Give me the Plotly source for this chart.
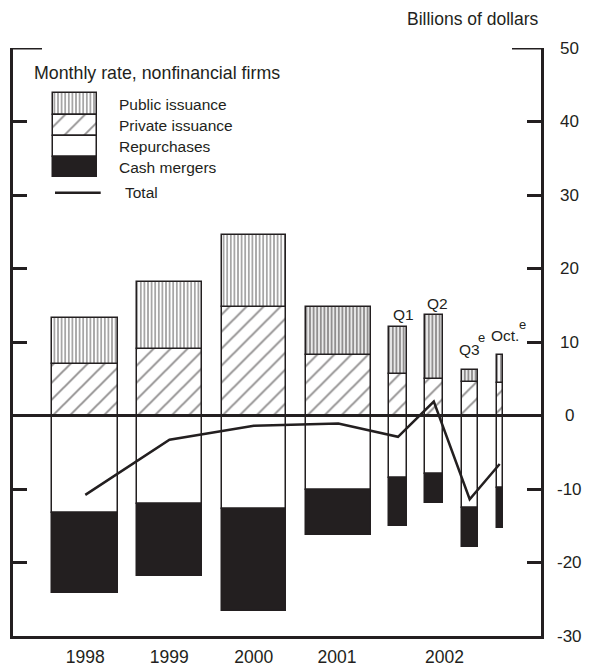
import plotly.graph_objects as go

# ---- data (billions of dollars, monthly rate) ----
categories = ["1998", "1999", "2000", "2001", "Q1", "Q2", "Q3", "Oct."]
private_issuance = [7.0, 9.0, 14.7, 8.2, 5.7, 4.9, 4.5, 4.4]
public_issuance = [6.2, 9.2, 9.9, 6.5, 6.3, 8.8, 1.7, 3.8]
repurchases = [-13.3, -12.0, -12.7, -10.2, -8.5, -8.0, -12.6, -9.9]
cash_mergers = [-10.9, -9.8, -13.9, -6.0, -6.5, -3.9, -5.3, -5.4]
total = [-10.8, -3.3, -1.4, -1.1, -2.9, 1.9, -11.4, -6.6]

year_labels = ["1998", "1999", "2000", "2001", "2002"]
y_ticks = [-30, -20, -10, 0, 10, 20, 30, 40, 50]

# ---- layout positions (styling, not data) ----
x_pos = [72.3, 156.5, 240.8, 325.3, 385.0, 420.8, 456.7, 486.7]
bar_w = [66, 65.6, 64.3, 64.7, 17.4, 17.7, 16, 6]
year_pos = [72.3, 156.2, 240.8, 324.0, 431.5]
pub_solidity = [0.4, 0.4, 0.4, 0.6, 0.6, 0.6, 0.6, 0.45]

FONT = "Liberation Sans, Arial, Helvetica, sans-serif"
BLACK = "#231f20"

TOP, BOTTOM = 48, 636  # pixel rows of the plot area

fig = go.Figure()

fig.add_bar(x=x_pos, y=private_issuance, width=bar_w, name="Private issuance",
            marker=dict(color="white", line=dict(color=BLACK, width=1.5),
                        pattern=dict(shape="/", size=12, solidity=0.16,
                                     fgcolor=BLACK, bgcolor="white")))
fig.add_bar(x=x_pos, y=public_issuance, width=bar_w, name="Public issuance",
            marker=dict(color="white", line=dict(color=BLACK, width=1.5),
                        pattern=dict(shape="|", size=3.6, solidity=pub_solidity,
                                     fgcolor=BLACK, bgcolor="white")))
fig.add_bar(x=x_pos, y=repurchases, width=bar_w, name="Repurchases",
            marker=dict(color="white", line=dict(color=BLACK, width=1.5)))
fig.add_bar(x=x_pos, y=cash_mergers, width=bar_w, name="Cash mergers",
            marker=dict(color=BLACK, line=dict(color=BLACK, width=1.5)))
fig.add_scatter(x=x_pos, y=total, mode="lines", name="Total",
                line=dict(color=BLACK, width=2.5))

# ---- legend swatches on an overlay pixel-like axis ----
leg_names = ["Public issuance", "Private issuance", "Repurchases", "Cash mergers"]
leg_tops = [93.3, 115, 136, 156.7]
leg_h = [21.7, 21, 20.7, 20.6]
leg_marker = [
    dict(color="white", line=dict(color=BLACK, width=1.5),
         pattern=dict(shape="|", size=3.6, solidity=0.4, fgcolor=BLACK, bgcolor="white")),
    dict(color="white", line=dict(color=BLACK, width=1.5),
         pattern=dict(shape="/", size=14, solidity=0.13, fgcolor=BLACK, bgcolor="white")),
    dict(color="white", line=dict(color=BLACK, width=1.5)),
    dict(color=BLACK, line=dict(color=BLACK, width=1.5)),
]
for nm, t, h, mk in zip(leg_names, leg_tops, leg_h, leg_marker):
    fig.add_bar(x=[75], y=[h], base=[t], width=[43.4], marker=mk,
                xaxis="x2", yaxis="y2", showlegend=False, hoverinfo="skip")

annotations = []
for nm, t, h in zip(leg_names, leg_tops, leg_h):
    annotations.append(dict(x=116.7, y=t + h / 2, xref="x2", yref="y2", text=nm,
                            showarrow=False, xanchor="left", yanchor="middle",
                            font=dict(size=15.5, family=FONT, color=BLACK)))
annotations.append(dict(x=123.3, y=192.7, xref="x2", yref="y2", text="Total",
                        showarrow=False, xanchor="left", yanchor="middle",
                        font=dict(size=15.5, family=FONT, color=BLACK)))
annotations.append(dict(x=31.5, y=73, xref="x2", yref="y2",
                        text="Monthly rate, nonfinancial firms", showarrow=False,
                        xanchor="left", yanchor="middle",
                        font=dict(size=17.8, family=FONT, color=BLACK)))
annotations.append(dict(x=1, y=(BOTTOM - 19) / (BOTTOM - TOP), xref="paper", yref="paper",
                        text="Billions of dollars", showarrow=False,
                        xanchor="right", yanchor="middle",
                        font=dict(size=17.5, family=FONT, color=BLACK)))
# right-hand tick labels (centered, as in the original)
for v in y_ticks:
    annotations.append(dict(x=1, xref="paper", xshift=28, y=v, yref="y", text=str(v),
                            showarrow=False, xanchor="center", yanchor="middle",
                            font=dict(size=17, family=FONT, color=BLACK)))
# period labels above the 2002 bars
period_txt = [("Q1", 403, 314), ("Q2", 437.5, 303), ("Q3", 469, 349),
              ("Oct.", 505, 335.5)]
for txt, px, py in period_txt:
    annotations.append(dict(x=px, y=py, xref="x2", yref="y2", text=txt, showarrow=False,
                            xanchor="center", yanchor="middle",
                            font=dict(size=15.5, family=FONT, color=BLACK)))
for px, py in [(481, 337.5), (522.5, 324)]:
    annotations.append(dict(x=px, y=py, xref="x2", yref="y2", text="e", showarrow=False,
                            xanchor="center", yanchor="middle",
                            font=dict(size=13, family=FONT, color=BLACK)))

shapes = [
    # zero line
    dict(type="line", xref="paper", x0=0, x1=1, yref="y", y0=0, y1=0,
         line=dict(color=BLACK, width=3), layer="above"),
    # long top ticks at 50
    dict(type="line", xref="x2", x0=13, x1=42, yref="y", y0=50, y1=50,
         line=dict(color=BLACK, width=3)),
    dict(type="line", xref="x2", x0=512, x1=541, yref="y", y0=50, y1=50,
         line=dict(color=BLACK, width=3)),
    # legend line for Total
    dict(type="line", xref="x2", x0=55, x1=100.7, yref="y2", y0=192.7, y1=192.7,
         line=dict(color=BLACK, width=2.5)),
]

fig.update_layout(
    width=591, height=667,
    margin=dict(l=13, r=50, t=TOP, b=667 - BOTTOM),
    paper_bgcolor="white", plot_bgcolor="white",
    barmode="relative", bargap=0,
    showlegend=False,
    font=dict(family=FONT, color=BLACK),
    xaxis=dict(range=[0, 528], showgrid=False, zeroline=False, automargin=False,
               showline=True, linecolor=BLACK, linewidth=3,
               ticks="", tickvals=year_pos, ticktext=year_labels,
               tickfont=dict(size=17.5, family=FONT, color=BLACK),
               ticklabelstandoff=3),
    yaxis=dict(range=[-30, 50], showgrid=False, zeroline=False, automargin=False,
               showline=True, linecolor=BLACK, linewidth=3, mirror="ticks",
               ticks="inside", ticklen=14, tickwidth=3, tickcolor=BLACK,
               tickvals=[-20, -10, 0, 10, 20, 30, 40],
               showticklabels=False),
    xaxis2=dict(range=[13, 541], overlaying="x", anchor="y2", visible=False,
                automargin=False),
    yaxis2=dict(range=[BOTTOM, TOP], overlaying="y", anchor="x2", visible=False,
                automargin=False),
    annotations=annotations,
    shapes=shapes,
)

fig.write_html("out.html", config={"displayModeBar": False},
               post_script="document.body.style.margin='0';document.body.style.overflow='hidden';")
